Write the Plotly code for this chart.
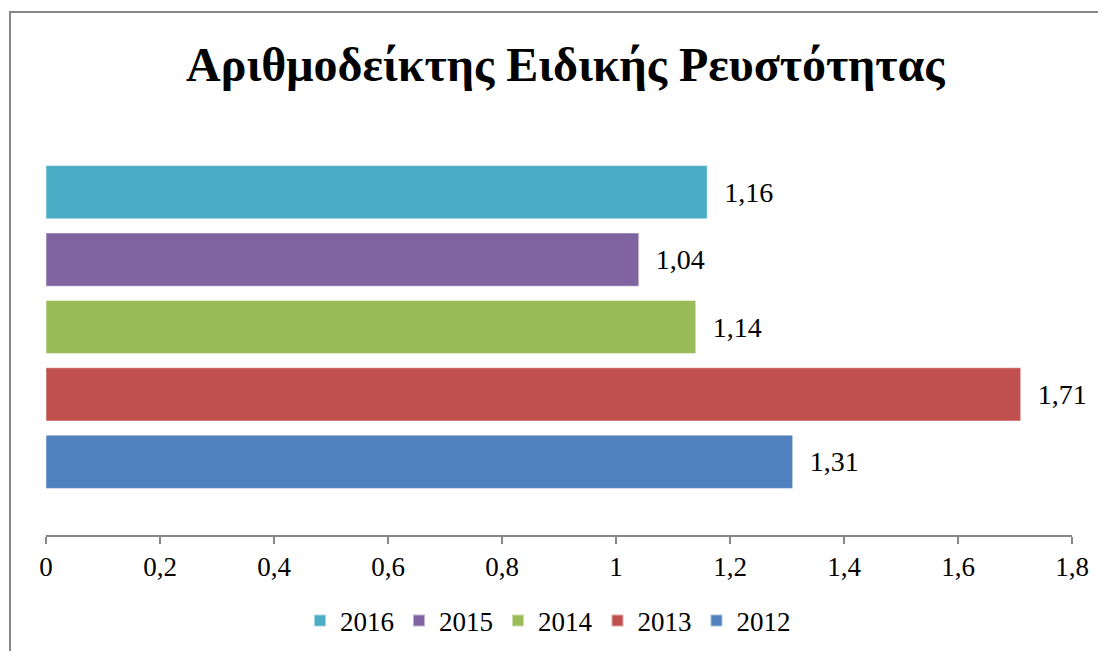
import plotly.graph_objects as go

years = ["2012", "2013", "2014", "2015", "2016"]
values = [1.31, 1.71, 1.14, 1.04, 1.16]
colors = ["#4F81BD", "#C0504D", "#9BBB59", "#8064A2", "#4BACC6"]
labels = ["1,31", "1,71", "1,14", "1,04", "1,16"]
category = ["Δείκτης"]
x_ticks = [0, 0.2, 0.4, 0.6, 0.8, 1.0, 1.2, 1.4, 1.6, 1.8]

W, H = 1106, 651
OX, OY = 7, 7  # page offset of the figure inside the browser window
PL, PR, PT, PB = 45, 1071, 118, 534  # target plot area in window pixels
L, T = PL - OX, PT - OY
pw, ph = PR - PL, PB - PT
R, B = W - L - pw, H - T - ph


def px_x(p):
    return (p - OX - L) / pw


def px_y(p):
    return (T + ph - (p - OY)) / ph


fig = go.Figure()
for yr, v, c, lab in zip(years, values, colors, labels):
    fig.add_trace(go.Bar(
        name=yr, x=[v], y=category, orientation="h",
        marker=dict(color=c, line=dict(color="rgba(255,255,255,0.5)", width=1)),
        text=["  " + lab], textposition="outside",
        textfont=dict(family="Liberation Serif", size=28, color="#000000"),
        cliponaxis=False,
    ))

fig.update_layout(
    width=W, height=H,
    margin=dict(l=L, r=R, t=T, b=B),
    paper_bgcolor="white", plot_bgcolor="white",
    barmode="group", bargap=0.19, bargroupgap=0.21,
    separators=",.",
    title=dict(text="<b>Αριθμοδείκτης Ειδικής Ρευστότητας</b>",
               x=px_x(562), xanchor="center", y=1 - (63 - OY) / H, yanchor="middle",
               font=dict(family="Liberation Serif", size=48, color="#000000")),
    font=dict(family="Liberation Serif", size=27, color="#000000"),
    showlegend=True,
    legend=dict(orientation="h", traceorder="reversed", x=px_x(547), xanchor="center",
                y=px_y(620), yanchor="middle", font=dict(size=27),
                itemwidth=30, itemsizing="constant"),
    xaxis=dict(range=[0, 1.8], tickvals=x_ticks, tickformat=".1~f",
               showgrid=False, zeroline=False, showline=True, linecolor="#868686",
               linewidth=2, ticks="outside", ticklen=7, tickcolor="#868686", tickwidth=2,
               tickfont=dict(size=27)),
    yaxis=dict(showticklabels=False, showgrid=False, zeroline=False, showline=False),
    shapes=[dict(type="rect", xref="paper", yref="paper",
                 x0=px_x(9), x1=px_x(1130), y0=px_y(680), y1=px_y(11),
                 line=dict(color="#878787", width=2), fillcolor="rgba(0,0,0,0)",
                 layer="below")],
)

fig.write_html("out.html")
